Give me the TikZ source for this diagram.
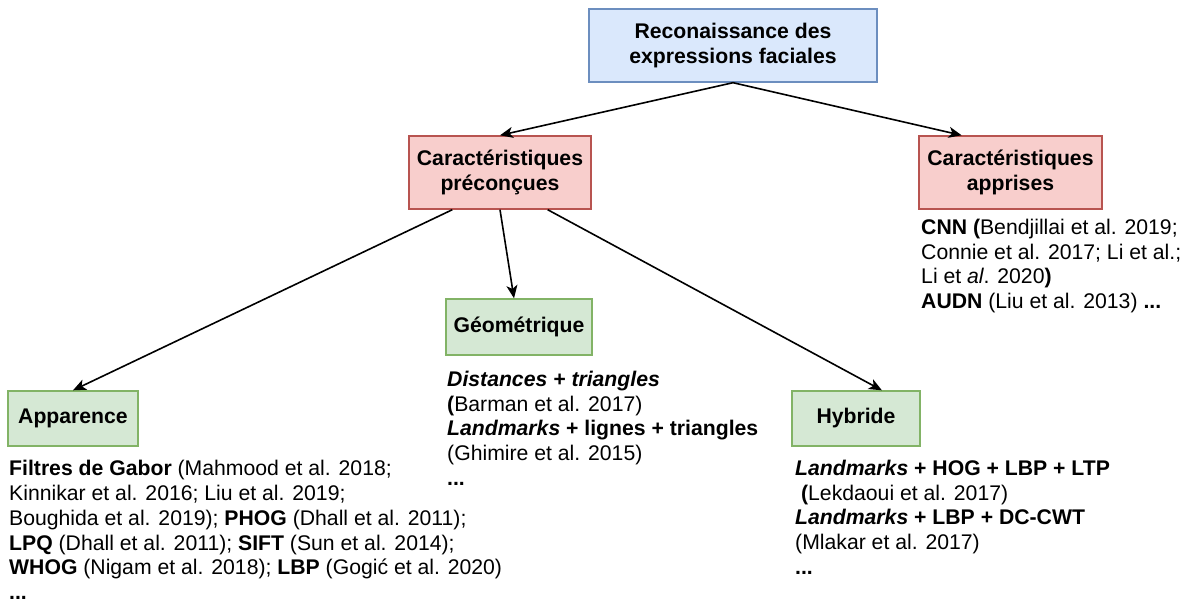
\documentclass[tikz,border=0pt]{standalone}
\usepackage{fontspec}
\setmainfont{Liberation Sans}
\usetikzlibrary{arrows.meta,calc}
\definecolor{blueFill}{HTML}{DAE8FC}
\definecolor{blueLine}{HTML}{6C8EBF}
\definecolor{redFill}{HTML}{F8CECC}
\definecolor{redLine}{HTML}{B85450}
\definecolor{greenFill}{HTML}{D5E8D4}
\definecolor{greenLine}{HTML}{82B366}
% fixed height for the first line of each reference list
\newcommand{\firstline}{\rule{0pt}{16pt}}
\begin{document}
\begin{tikzpicture}[x=1pt,y=-1pt,
  box/.style={draw, line width=1.4pt, inner sep=0pt, align=center,
    font=\bfseries\fontsize{21.2}{25.5}\selectfont},
  rootbox/.style={box, fill=blueFill, draw=blueLine},
  featbox/.style={box, fill=redFill, draw=redLine, minimum width=182pt, minimum height=73pt},
  kindbox/.style={box, fill=greenFill, draw=greenLine, minimum height=55pt},
  refs/.style={anchor=north west, inner sep=0pt, align=left,
    font=\fontsize{21.2}{24.8}\selectfont},
  link/.style={line width=1.6pt, -{Stealth[length=13pt,width=11pt,inset=3.5pt]}}]

\useasboundingbox (0,0) rectangle (1193,602);

% boxes
\node[rootbox, minimum width=288pt, minimum height=73pt] (root) at (733,45.5)
  {Reconaissance des\\expressions faciales};
\node[featbox] (pre) at (500,172.5) {Caractéristiques\\préconçues};
\node[featbox, minimum width=183pt] (learn) at (1010.5,172.5) {Caractéristiques\\apprises};
\node[kindbox, minimum width=146pt, minimum height=56pt] (geo) at (519,327) {Géométrique};
\node[kindbox, minimum width=130pt] (app) at (73,418.5) {Apparence};
\node[kindbox, minimum width=128pt] (hyb) at (856,418.5) {Hybride};

% connectors
\draw[link] (root.south) -- (pre.north);
\draw[link] (root.south) -- ($(learn.north west)!0.235!(learn.north east)$);
\draw[link] ($(pre.south west)!0.24!(pre.south east)$) -- (app.north);
\draw[link] (pre.south) -- ($(geo.north west)!0.466!(geo.north east)$);
\draw[link] ($(pre.south west)!0.76!(pre.south east)$) -- ($(hyb.north west)!0.70!(hyb.north east)$);

% reference lists
\node[refs] (learnrefs) at (921,218) {\firstline\textbf{CNN (}Bendjillai et al. 2019;\\
  Connie et al. 2017; Li et al.;\\
  Li et \textit{al}. 2020\textbf{)}\\
  \textbf{AUDN} (Liu et al. 2013) \textbf{...}};

\node[refs] (apprefs) at (9,459.5) {\firstline\textbf{Filtres de Gabor} (Mahmood et al. 2018;\\
  Kinnikar et al. 2016; Liu et al. 2019;\\
  Boughida et al. 2019); \textbf{PHOG} (Dhall et al. 2011);\\
  \textbf{LPQ} (Dhall et al. 2011); \textbf{SIFT} (Sun et al. 2014);\\
  \textbf{WHOG} (Nigam et al. 2018); \textbf{LBP} (Gogić et al. 2020)\\
  \textbf{...}};

\node[refs] (georefs) at (447,370) {\firstline\textbf{\textit{Distances + triangles}}\\
  \textbf{(}Barman et al. 2017)\\
  \textbf{\textit{Landmarks} + lignes + triangles}\\
  (Ghimire et al. 2015)\\
  \textbf{...}};

\node[refs] (hybrefs) at (795,459) {\firstline\textbf{\textit{Landmarks} + HOG + LBP + LTP}\\
  \hspace*{0.28em}\textbf{(}Lekdaoui et al. 2017)\\
  \textbf{\textit{Landmarks} + LBP + DC-CWT}\\
  (Mlakar et al. 2017)\\
  \textbf{...}};
\end{tikzpicture}
\end{document}
